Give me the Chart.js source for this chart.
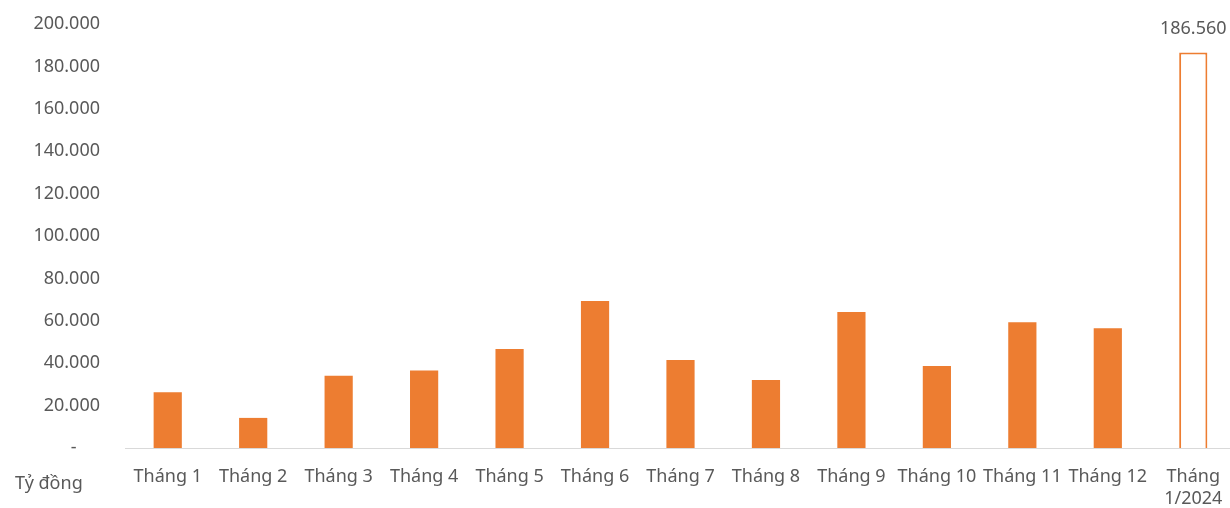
<!DOCTYPE html>
<html>
<head>
<meta charset="utf-8">
<script src="https://cdn.jsdelivr.net/npm/chart.js@4/dist/chart.umd.min.js"></script>
<style>
  body { margin: 0; background: #fff; overflow: hidden; }
  #khung { width: 1236px; height: 508px; }
</style>
</head>
<body>
<div id="khung"><canvas id="bieuDo"></canvas></div>
<script>
// Dữ liệu
let thang = ['Tháng 1', 'Tháng 2', 'Tháng 3', 'Tháng 4', 'Tháng 5', 'Tháng 6', 'Tháng 7',
             'Tháng 8', 'Tháng 9', 'Tháng 10', 'Tháng 11', 'Tháng 12', ['Tháng', '1/2024']];
let giaTri = [26300, 14200, 34100, 36600, 46700, 69300, 41500, 32100, 64200, 38700, 59300, 56500, 186560];
let mocTruc = [0, 20000, 40000, 60000, 80000, 100000, 120000, 140000, 160000, 180000, 200000];

const CAM = '#ED7D31';
const XAM = '#595959';
const FONT = "'Noto Sans'";

function dinhDang(v) {
    return String(v).replace(/\B(?=(\d{3})+(?!\d))/g, '.');
}

// Nhãn giá trị cho cột cuối + chữ "Tỷ đồng"
const nhanPlugin = {
    id: 'nhan',
    afterDatasetsDraw(chart) {
        let ctx = chart.ctx;
        let meta = chart.getDatasetMeta(0);
        let cuoi = meta.data.length - 1;
        let bar = meta.data[cuoi];
        ctx.save();
        ctx.font = '18px ' + FONT;
        ctx.fillStyle = XAM;
        ctx.textAlign = 'center';
        ctx.textBaseline = 'middle';
        ctx.fillText(dinhDang(giaTri[cuoi]), bar.x, bar.y - 24);
        ctx.textAlign = 'left';
        ctx.fillText('Tỷ đồng', 15, 484);
        ctx.restore();
    }
};

function veBieuDo() {
    let ctx = document.getElementById('bieuDo').getContext('2d');
    new Chart(ctx, {
        type: 'bar',
        data: {
            labels: thang,
            datasets: [{
                data: giaTri,
                backgroundColor: c => c.dataIndex === giaTri.length - 1 ? '#ffffff' : CAM,
                borderColor: CAM,
                borderWidth: c => c.dataIndex === giaTri.length - 1 ? 2 : 0,
                borderSkipped: 'bottom',
                barPercentage: 0.33,
                categoryPercentage: 1
            }]
        },
        options: {
            responsive: true,
            maintainAspectRatio: false,
            animation: false,
            layout: { padding: { left: 0, right: 0, top: 24, bottom: 0 } },
            plugins: { legend: { display: false }, tooltip: { enabled: false } },
            scales: {
                x: {
                    afterFit: axis => {
                        axis.height = 60;
                        axis.paddingLeft = 0;
                        axis.paddingRight = 0;
                    },
                    grid: { display: false, drawTicks: false },
                    border: { display: true, color: '#D9D9D9', width: 1 },
                    ticks: { color: XAM, font: { family: FONT, size: 18 }, padding: 18, maxRotation: 0, autoSkip: false }
                },
                y: {
                    min: 0,
                    max: 200000,
                    afterBuildTicks: axis => { axis.ticks = mocTruc.map(v => ({ value: v })); },
                    afterFit: axis => {
                        axis.width = 125;
                        axis.paddingTop = 0;
                        axis.paddingBottom = 0;
                    },
                    grid: { display: false, drawTicks: false },
                    border: { display: false },
                    ticks: {
                        color: XAM,
                        font: { family: FONT, size: 18 },
                        padding: 25,
                        callback: v => v === 0 ? '-     ' : dinhDang(v)
                    }
                }
            }
        },
        plugins: [nhanPlugin]
    });
}

document.addEventListener('DOMContentLoaded', veBieuDo);
</script>
</body>
</html>
